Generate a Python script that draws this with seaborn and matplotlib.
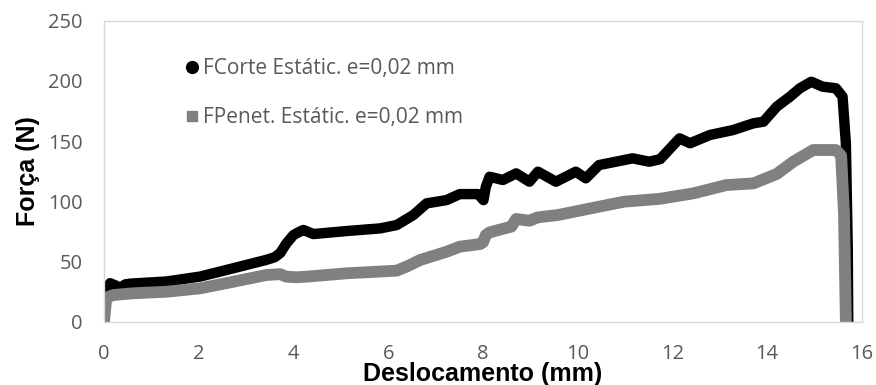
import matplotlib
matplotlib.use("Agg")
import matplotlib.pyplot as plt
from matplotlib.lines import Line2D
import pandas as pd
import seaborn as sns

# Cutting force, static test, e = 0.02 mm
corte_x = [0.0, 0.02, 0.06, 0.13, 0.25, 0.34, 0.45, 0.55, 1.32, 2.03, 2.73,
           3.43, 3.6, 3.72, 3.85, 4.0, 4.14, 4.21, 4.42, 5.12, 5.83, 6.18,
           6.53, 6.81, 7.23, 7.51, 7.9, 8.01, 8.06, 8.14, 8.42, 8.7, 8.98,
           9.16, 9.54, 9.96, 10.17, 10.45, 11.16, 11.51, 11.74, 12.15, 12.37,
           12.79, 13.28, 13.71, 13.92, 14.2, 14.48, 14.69, 14.93, 15.17,
           15.45, 15.59, 15.66, 15.7, 15.71]
corte_y = [0, 20, 28, 32, 30, 28, 31, 31.6, 33.4, 37.5, 44.4,
           51.4, 53.5, 57, 65, 72, 75, 76.2, 72.8, 75.3, 77.5, 80.3,
           88.6, 98.3, 101, 106, 106, 101, 112, 120.4, 117.7, 123.2, 116.3,
           124.6, 116.3, 124.6, 119.1, 130.1, 135.7, 132.9, 135, 152.3, 148.2,
           155.1, 159.2, 164.8, 166.1, 178.6, 186.9, 193.9, 199.3, 195.2,
           193.9, 186.9, 148.2, 60, 0]

# Penetration force, static test, e = 0.02 mm
penet_x = [0.0, 0.02, 0.05, 0.2, 0.62, 1.32, 2.03, 2.73, 3.43, 3.72, 3.85,
           4.07, 4.3, 5.12, 6.18, 6.4, 6.67, 7.23, 7.51, 7.94, 8.0, 8.06,
           8.14, 8.6, 8.7, 8.98, 9.16, 9.58, 10.28, 10.98, 11.72, 12.44,
           13.14, 13.71, 14.2, 14.55, 14.97, 15.45, 15.56, 15.62, 15.66]
penet_y = [0, 8, 20, 22.2, 23.6, 24.9, 27.7, 33.2, 38.8, 39.5, 37.4,
           36.9, 37.5, 40.2, 42.4, 46, 51.2, 58.1, 62.3, 64.5, 66, 72,
           74.2, 79, 85.3, 83.9, 86.7, 88.6, 94.2, 99.7, 102, 106.6,
           113.5, 114.9, 122.7, 132.9, 142.6, 142.6, 138, 90, 0]

labels = ["FCorte Estátic. e=0,02 mm", "FPenet. Estátic. e=0,02 mm"]
colors = ["#000000", "#808080"]

corte = pd.DataFrame({"x": corte_x, "y": corte_y})
penet = pd.DataFrame({"x": penet_x, "y": penet_y})

sns.set_theme(style="white")
plt.rcParams["font.family"] = ["Open Sans", "DejaVu Sans"]

fig = plt.figure(figsize=(8.76, 3.85), dpi=100)
ax = fig.add_axes([0.1187, 0.1644, 0.8653, 0.7818])

line_kw = dict(sort=False, estimator=None, ax=ax, legend=False,
               solid_capstyle="round", solid_joinstyle="round")
sns.lineplot(data=corte, x="x", y="y", color=colors[0], linewidth=7.5, **line_kw)
sns.lineplot(data=penet, x="x", y="y", color=colors[1], linewidth=8.5, **line_kw)

ax.set_xlim(0, 16)
ax.set_ylim(0, 250)
ax.set_xticks(range(0, 17, 2))
ax.set_yticks(range(0, 251, 50))
ax.tick_params(axis="both", length=0, labelsize=14.5, labelcolor="#595959")
ax.tick_params(axis="x", pad=16)
ax.tick_params(axis="y", pad=15.5)

for sp in ax.spines.values():
    sp.set_color("#d9d9d9")
    sp.set_linewidth(1)

label_font = dict(family=["Liberation Sans", "DejaVu Sans"], fontsize=18,
                  fontweight="bold", color="black")
ax.set_xlabel("Deslocamento (mm)", **label_font)
ax.set_ylabel("Força (N)", **label_font)
ax.xaxis.set_label_coords(0.5, -0.134)
ax.yaxis.set_label_coords(-0.084, 0.5)

handles = [
    Line2D([], [], linestyle="none", marker="o", markersize=8.5, color=colors[0]),
    Line2D([], [], linestyle="none", marker="s", markersize=7, color=colors[1]),
]
leg = ax.legend(handles, labels, loc="upper left", bbox_to_anchor=(0.097, 0.904),
                frameon=False, fontsize=15, labelspacing=1.34, handlelength=0.6,
                handletextpad=0.2, borderaxespad=0)
for t in leg.get_texts():
    t.set_color("#595959")

fig.savefig("out.png", dpi=100)
